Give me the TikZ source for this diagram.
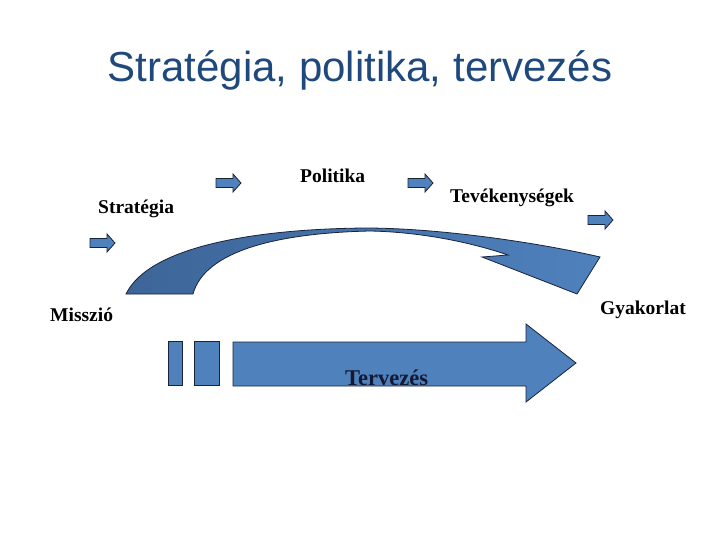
\documentclass[tikz,border=0pt]{standalone}
\usepackage{fontspec}
\setmainfont{Liberation Serif}
\newfontfamily\titlefont{Liberation Sans}
\definecolor{titleblue}{HTML}{1F497D}
\definecolor{shapeblue}{HTML}{4F81BD}
\definecolor{shapedark}{HTML}{3D6598}
\definecolor{edgecol}{HTML}{17233A}
\definecolor{textnavy}{HTML}{141A33}
\tikzset{
  blueshape/.style={fill=shapeblue, draw=edgecol, line width=0.8pt, line join=miter},
  lbl/.style={font=\bfseries\fontsize{19.5}{22}\selectfont, anchor=base west, inner sep=0pt, text=black},
  smallarr/.pic={\path[blueshape] (0,-4.5) -- (17,-4.5) -- (17,-9) -- (25,0) -- (17,9) -- (17,4.5) -- (0,4.5) -- cycle;}
}
\begin{document}
\begin{tikzpicture}[x=1pt,y=-1pt]
\useasboundingbox (0,0) rectangle (720,540);
% title
\node[font=\titlefont\fontsize{42}{48}\selectfont, text=titleblue, anchor=base, inner sep=0pt] (title) at (360,82) {Stratégia, politika, tervezés};
% curved arrow
\path[draw=edgecol, line width=0.8pt, left color=shapedark, right color=shapeblue, line join=miter]
  (126,294) .. controls (150,245) and (260,229) .. (365,228)
  .. controls (440,228) and (540,243) .. (600,257)
  -- (577,294) -- (482,257) -- (508,255)
  .. controls (470,242) and (420,232) .. (370,231)
  .. controls (280,233) and (205,250) .. (193,294) -- cycle;
% big arrow and bars
\path[blueshape] (233,342) -- (526,342) -- (526,324) -- (576,363) -- (526,402) -- (526,386) -- (233,386) -- cycle;
\path[blueshape] (168,341) rectangle (182,385);
\path[blueshape] (194,341) rectangle (219,385);
% small arrows
\pic (a1) at (90,243) {smallarr};
\pic (a2) at (216,183) {smallarr};
\pic (a3) at (408,183) {smallarr};
\pic (a4) at (588,220) {smallarr};
% labels
\node[lbl] (strat) at (98,214) {Stratégia};
\node[lbl] (pol) at (300,183) {Politika};
\node[lbl] (tev) at (450,203) {Tevékenységek};
\node[lbl] (misz) at (50,321) {Misszió};
\node[lbl] (gyak) at (600,314) {Gyakorlat};
\node[lbl, font=\bfseries\fontsize{22.5}{26}\selectfont, text=textnavy] (terv) at (345,385) {Tervezés};
\end{tikzpicture}
\end{document}
